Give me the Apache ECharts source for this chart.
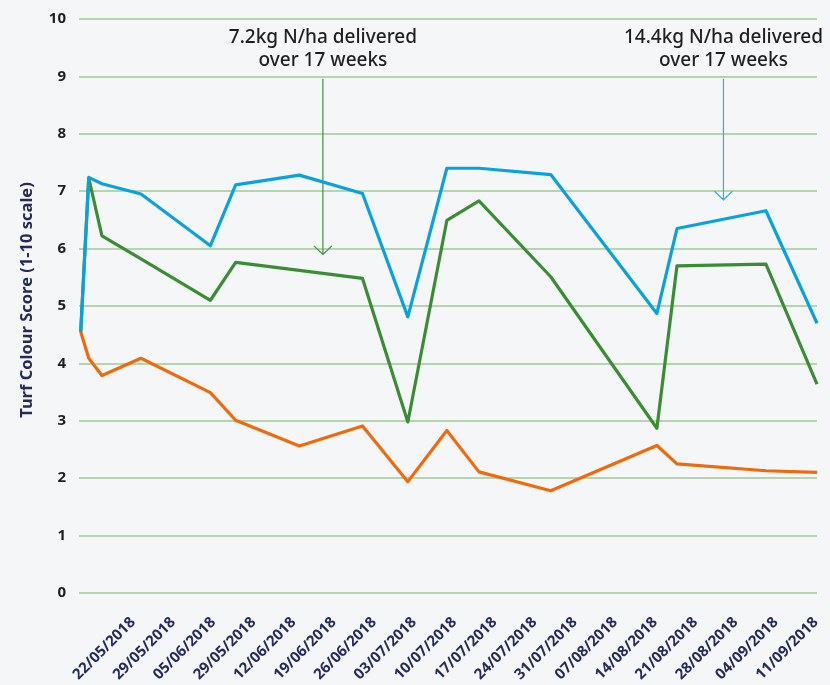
<!DOCTYPE html>
<html>
<head>
<meta charset="utf-8">
<script src="https://cdn.jsdelivr.net/npm/echarts@6/dist/echarts.min.js"></script>
<style>
  html, body { margin: 0; padding: 0; background: #f5f6f8; }
  #chart { width: 830px; height: 685px; }
</style>
</head>
<body>
<div id="chart"></div>
<script>
// axis labels as printed on the original (29/05 appears twice there too)
const tickLabels = ['22/05/2018', '29/05/2018', '05/06/2018', '29/05/2018', '12/06/2018', '19/06/2018',
  '26/06/2018', '03/07/2018', '10/07/2018', '17/07/2018', '24/07/2018', '31/07/2018', '07/08/2018',
  '14/08/2018', '21/08/2018', '28/08/2018', '04/09/2018', '11/09/2018'];
const tickDays = tickLabels.map((_, i) => i * 7);

// assessment positions, in days from 22/05/2018
const sampleDays = [-9.1, -7.7, -5.4, 1.4, 13.5, 17.9, 29.0, 40.0, 47.9, 54.7, 60.3, 72.8, 91.3, 94.8, 110.3, 119.2];

// turf colour scores
const control = [4.55, 4.09, 3.79, 4.09, 3.49, 3.01, 2.56, 2.91, 1.94, 2.83, 2.11, 1.78, 2.57, 2.25, 2.13, 2.10];
const rate72 = [4.55, 7.23, 6.22, 5.82, 5.10, 5.76, 5.62, 5.48, 2.98, 6.49, 6.83, 5.51, 2.87, 5.70, 5.73, 3.64];
const rate144 = [4.56, 7.24, 7.13, 6.95, 6.05, 7.11, 7.28, 6.96, 4.81, 7.40, 7.40, 7.29, 4.87, 6.35, 6.66, 4.70];

// annotations: [day, arrow top, arrow tip]
const notes = [
  { text: '7.2kg N/ha delivered\nover 17 weeks', day: 33.1, top: 8.96, tip: 5.9, color: '#3f9140' },
  { text: '14.4kg N/ha delivered\nover 17 weeks', day: 102.9, top: 8.96, tip: 6.85, color: '#3aa9dc' }
];

const FONT = '"Noto Sans", "Open Sans", sans-serif';

function pts(values) {
  return sampleDays.map((d, i) => [d, values[i]]);
}

function lineSeries(name, values, color) {
  return {
    name,
    type: 'line',
    data: pts(values),
    showSymbol: false,
    lineStyle: { width: 3.2, color, join: 'round' },
    itemStyle: { color },
    animation: false
  };
}

const chart = echarts.init(document.getElementById('chart'));

chart.setOption({
  backgroundColor: '#f5f6f8',
  textStyle: { fontFamily: FONT },
  grid: { left: 79, right: 13, top: 19, bottom: 92 },
  xAxis: {
    type: 'value',
    min: -9.4,
    max: 119.2,
    axisLine: { show: false },
    axisTick: { show: false },
    splitLine: { show: false },
    axisLabel: {
      customValues: tickDays,
      rotate: 45,
      margin: 27,
      color: '#262a5a',
      fontSize: 15,
      fontWeight: 'bold',
      fontFamily: FONT,
      formatter: (v) => tickLabels[Math.round(v / 7)] || ''
    }
  },
  yAxis: {
    type: 'value',
    min: 0,
    max: 10,
    interval: 1,
    name: 'Turf Colour Score (1-10 scale)',
    nameLocation: 'middle',
    nameGap: 43,
    nameTextStyle: { color: '#262a5a', fontSize: 16.5, fontWeight: 'bold', fontFamily: FONT, padding: [0, 0, 0, 12] },
    axisLine: { show: false },
    axisTick: { show: false },
    axisLabel: { color: '#1e1e1e', fontSize: 15, fontWeight: 'bold', margin: 13, fontFamily: FONT },
    splitLine: { lineStyle: { color: '#b5d5ae', width: 2 } }
  },
  series: [
    lineSeries('Control', control, '#f06a0c'),
    lineSeries('7.2kg N/ha', rate72, '#3b8d35'),
    lineSeries('14.4kg N/ha', rate144, '#0aa2dc')
  ]
});

// arrows and captions placed through the axes
const graphic = [];
notes.forEach((n) => {
  const [x, yTop] = chart.convertToPixel({ gridIndex: 0 }, [n.day, n.top]);
  const [, yTip] = chart.convertToPixel({ gridIndex: 0 }, [n.day, n.tip]);
  graphic.push({
    type: 'line',
    shape: { x1: x, y1: yTop, x2: x, y2: yTip },
    style: { stroke: n.color, lineWidth: 1.2 }
  });
  graphic.push({
    type: 'polyline',
    shape: { points: [[x - 9, yTip - 8.5], [x, yTip], [x + 9, yTip - 8.5]] },
    style: { stroke: n.color, lineWidth: 1.2, fill: null }
  });
  graphic.push({
    type: 'text',
    x: x,
    y: 49,
    style: {
      text: n.text,
      fill: '#1f1f1f',
      font: '500 19px ' + FONT,
      align: 'center',
      verticalAlign: 'middle',
      lineHeight: 22.5
    }
  });
});
chart.setOption({ graphic });
</script>
</body>
</html>
